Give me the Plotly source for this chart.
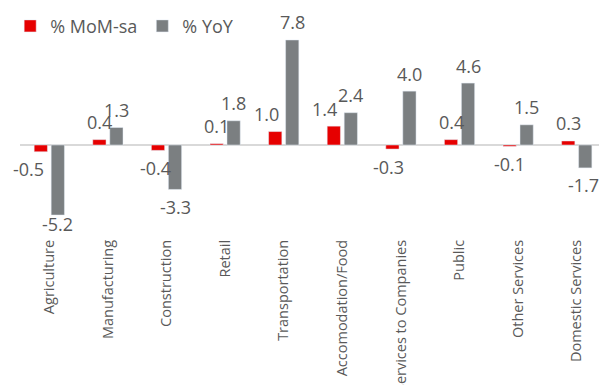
import plotly.graph_objects as go

categories = ["Agriculture", "Manufacturing", "Construction", "Retail", "Transportation",
              "Accomodation/Food", "Services to Companies", "Public", "Other Services",
              "Domestic Services"]
mom_sa = [-0.5, 0.4, -0.4, 0.1, 1.0, 1.4, -0.3, 0.4, -0.1, 0.3]
yoy = [-5.2, 1.3, -3.3, 1.8, 7.8, 2.4, 4.0, 4.6, 1.5, -1.7]

RED = "#E60000"
GREY = "#7B7F81"
TXT = "#595959"
FONT = "Open Sans"
BARGAP = 0.42
GROUPGAP = 0.22
LABEL_OFFSET = 17.5  # px from bar end to label centre

# manual label nudges seen in the reference (px): (dx, dy), dy>0 = up
mom_nudge = {"Agriculture": (-12, 0), "Construction": (-3, 0), "Transportation": (-9, 0),
             "Accomodation/Food": (-9, 0), "Services to Companies": (-4, 0)}
yoy_nudge = {"Agriculture": (0, 9), "Domestic Services": (-2, 0)}

fig = go.Figure()
fig.add_trace(go.Bar(x=categories, y=mom_sa, name="% MoM-sa", marker_color=RED))
fig.add_trace(go.Bar(x=categories, y=yoy, name="% YoY", marker_color=GREY))

slot = (1 - BARGAP) / 2
annotations = []
for series, sign, nudges in ((mom_sa, -1, mom_nudge), (yoy, 1, yoy_nudge)):
    for i, (cat, v) in enumerate(zip(categories, series)):
        dx, dy = nudges.get(cat, (0, 0))
        base = LABEL_OFFSET if v >= 0 else -LABEL_OFFSET
        annotations.append(dict(
            x=i + sign * slot / 2, y=v, xref="x", yref="y",
            text=f"{v:.1f}", showarrow=False,
            xanchor="center", yanchor="middle",
            xshift=dx, yshift=base + dy,
            font=dict(size=18, color=TXT, family=FONT),
        ))

fig.update_layout(
    width=599, height=385,
    margin=dict(l=20, r=0, t=35, b=153, autoexpand=False),
    paper_bgcolor="white", plot_bgcolor="white",
    barmode="group", bargap=BARGAP, bargroupgap=GROUPGAP,
    font=dict(family=FONT, color=TXT),
    showlegend=True,
    annotations=annotations,
    legend=dict(orientation="h", xref="container", yref="container",
                x=0.017, y=0.98, xanchor="left", yanchor="top",
                font=dict(size=18, color=TXT, family=FONT),
                bgcolor="rgba(0,0,0,0)"),
    xaxis=dict(type="category", range=[-0.5, 9.38], tickangle=-90, showgrid=False,
               showline=False, ticks="", ticklabelstandoff=4, automargin=False,
               tickfont=dict(size=14.5, color=TXT, family=FONT)),
    yaxis=dict(range=[-6.46, 8.17], showgrid=False, showticklabels=False,
               zeroline=True, zerolinecolor="#D9D9D9", zerolinewidth=1.5,
               showline=False, ticks="", automargin=False),
)

fig.write_html("out.html")
